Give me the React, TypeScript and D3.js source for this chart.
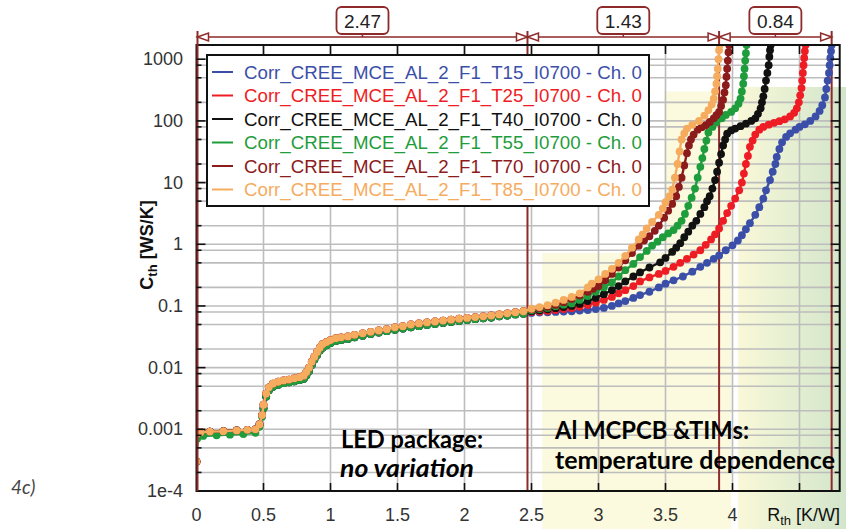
import React from "react";
import * as d3 from "d3";

// ---- data ----------------------------------------------------------------
// Structure function: cumulative thermal capacitance vs. cumulative thermal resistance
type Pt = [number, number];

// LED package section (nearly identical for every temperature)
const packageHead: Pt[] = [
  [0, 0.0003], [0.005, 0.00085], [0.03, 0.0009], [0.1, 0.00092], [0.2, 0.00093],
  [0.3, 0.00096], [0.38, 0.00098], [0.44, 0.001], [0.47, 0.0012], [0.49, 0.0017],
];
const packageHeadLow: Pt[] = [
  [0, 0.0003], [0.005, 0.0007], [0.05, 0.00078], [0.15, 0.0008], [0.25, 0.00082],
  [0.35, 0.00084], [0.44, 0.00088], [0.47, 0.0011], [0.49, 0.0016],
];
const packageBody: Pt[] = [
  [0.5, 0.0025], [0.52, 0.0038], [0.54, 0.0048], [0.57, 0.0055], [0.61, 0.0059],
  [0.65, 0.0062], [0.69, 0.0064], [0.73, 0.0067], [0.77, 0.007], [0.8, 0.0074],
  [0.82, 0.0085], [0.84, 0.01], [0.86, 0.0125], [0.88, 0.015], [0.9, 0.018],
  [0.92, 0.021], [0.94, 0.024], [0.97, 0.026], [1.0, 0.028], [1.04, 0.03],
  [1.08, 0.031], [1.13, 0.032], [1.18, 0.034], [1.24, 0.036], [1.3, 0.038],
  [1.36, 0.04], [1.42, 0.042], [1.48, 0.045], [1.54, 0.047], [1.6, 0.05],
  [1.66, 0.052], [1.72, 0.054], [1.78, 0.056], [1.84, 0.058], [1.9, 0.06],
  [1.96, 0.062], [2.02, 0.064], [2.08, 0.066], [2.14, 0.068], [2.2, 0.07],
  [2.26, 0.073], [2.32, 0.076], [2.38, 0.079], [2.44, 0.082],
];
const packageBodyLow: Pt[] = [
  [0.5, 0.0022], [0.52, 0.0034], [0.54, 0.0043], [0.57, 0.0049], [0.61, 0.0053],
  [0.65, 0.0056], [0.69, 0.0058], [0.73, 0.006], [0.77, 0.0063], [0.8, 0.0066],
  [0.82, 0.0075], [0.84, 0.0088], [0.86, 0.011], [0.88, 0.0135], [0.9, 0.016],
  [0.92, 0.019], [0.94, 0.021], [0.97, 0.023], [1.0, 0.025], [1.04, 0.027],
  [1.08, 0.028], [1.13, 0.029], [1.18, 0.031], [1.24, 0.033], [1.3, 0.035],
  [1.36, 0.037], [1.42, 0.039], [1.48, 0.041], [1.54, 0.043], [1.6, 0.045],
  [1.66, 0.047], [1.72, 0.049], [1.78, 0.051], [1.84, 0.053], [1.9, 0.055],
  [1.96, 0.057], [2.02, 0.059], [2.08, 0.061], [2.14, 0.063], [2.2, 0.065],
  [2.26, 0.068], [2.32, 0.07], [2.38, 0.073], [2.44, 0.075],
];

// MCPCB + TIM section, one per case temperature
const tailT15: Pt[] = [
  [2.5, 0.077], [2.56, 0.078], [2.62, 0.079], [2.68, 0.08], [2.74, 0.081], [2.8, 0.082],
  [2.86, 0.084], [2.92, 0.086], [2.98, 0.089], [3.04, 0.093], [3.1, 0.1], [3.15, 0.11],
  [3.2, 0.12], [3.26, 0.135], [3.31, 0.15], [3.38, 0.17], [3.45, 0.2], [3.5, 0.23],
  [3.56, 0.26], [3.63, 0.3], [3.7, 0.36], [3.76, 0.43], [3.81, 0.5], [3.86, 0.58],
  [3.9, 0.66], [3.95, 0.8], [4.0, 0.96], [4.04, 1.15], [4.07, 1.4], [4.1, 1.75],
  [4.13, 2.2], [4.17, 3.0], [4.2, 4.0], [4.23, 5.5], [4.25, 7.5], [4.28, 11],
  [4.3, 15], [4.32, 20], [4.33, 26], [4.35, 35], [4.37, 45], [4.4, 55], [4.43, 63],
  [4.47, 72], [4.5, 80], [4.54, 88], [4.58, 100], [4.62, 118], [4.65, 145],
  [4.67, 180], [4.69, 240], [4.7, 330], [4.71, 450], [4.72, 600], [4.725, 800],
  [4.73, 1050], [4.735, 1350], [4.74, 1700],
];
const tailT25: Pt[] = [
  [2.5, 0.08], [2.56, 0.081], [2.62, 0.083], [2.68, 0.086], [2.74, 0.089], [2.8, 0.092],
  [2.86, 0.097], [2.92, 0.104], [2.98, 0.113], [3.04, 0.125], [3.1, 0.14], [3.15, 0.16],
  [3.2, 0.18], [3.26, 0.21], [3.31, 0.25], [3.38, 0.29], [3.45, 0.33], [3.5, 0.37],
  [3.56, 0.43], [3.61, 0.5], [3.66, 0.58], [3.71, 0.68], [3.76, 0.8], [3.8, 0.98],
  [3.84, 1.2], [3.87, 1.45], [3.9, 1.8], [3.93, 2.4], [3.96, 3.2], [3.99, 4.2],
  [4.02, 5.5], [4.05, 7.5], [4.07, 10], [4.085, 14], [4.1, 20], [4.115, 27],
  [4.13, 38], [4.15, 48], [4.17, 60], [4.2, 72], [4.23, 80], [4.27, 87], [4.31, 93],
  [4.35, 99], [4.39, 106], [4.43, 118], [4.46, 135], [4.48, 160], [4.495, 200],
  [4.505, 260], [4.515, 340], [4.52, 450], [4.525, 600], [4.53, 800], [4.535, 1050],
  [4.54, 1350], [4.545, 1700],
];
const tailT40: Pt[] = [
  [2.5, 0.082], [2.56, 0.085], [2.62, 0.088], [2.68, 0.092], [2.74, 0.096], [2.8, 0.1],
  [2.86, 0.108], [2.92, 0.12], [2.98, 0.135], [3.04, 0.155], [3.1, 0.18], [3.15, 0.21],
  [3.2, 0.25], [3.26, 0.3], [3.31, 0.35], [3.38, 0.42], [3.46, 0.51], [3.5, 0.6],
  [3.55, 0.75], [3.58, 0.88], [3.61, 1.04], [3.64, 1.3], [3.67, 1.6], [3.7, 2.0],
  [3.73, 2.4], [3.76, 3.1], [3.79, 4], [3.81, 5], [3.83, 6], [3.85, 8], [3.87, 11],
  [3.885, 15], [3.9, 21], [3.915, 29], [3.93, 40], [3.945, 50], [3.96, 62], [3.99, 70],
  [4.02, 75], [4.06, 82], [4.1, 90], [4.14, 100], [4.17, 110], [4.19, 130], [4.21, 160],
  [4.22, 200], [4.23, 250], [4.24, 330], [4.25, 450], [4.26, 600], [4.27, 800],
  [4.275, 1100], [4.28, 1400], [4.285, 1700],
];
const tailT55: Pt[] = [
  [2.5, 0.085], [2.56, 0.089], [2.62, 0.093], [2.68, 0.099], [2.74, 0.105], [2.8, 0.11],
  [2.86, 0.125], [2.92, 0.145], [2.98, 0.17], [3.04, 0.2], [3.1, 0.24], [3.15, 0.3],
  [3.2, 0.38], [3.26, 0.48], [3.31, 0.62], [3.36, 0.78], [3.4, 0.95], [3.44, 1.1],
  [3.48, 1.3], [3.52, 1.5], [3.56, 1.7], [3.59, 2.0], [3.62, 2.4], [3.645, 3.1],
  [3.67, 4.2], [3.695, 5.7], [3.72, 8], [3.74, 12], [3.76, 18], [3.775, 25], [3.79, 35],
  [3.805, 48], [3.82, 65], [3.85, 80], [3.88, 95], [3.92, 110], [3.95, 125], [3.99, 140],
  [4.02, 160], [4.045, 190], [4.06, 230], [4.07, 300], [4.08, 400], [4.085, 530],
  [4.09, 700], [4.095, 950], [4.1, 1250], [4.105, 1700],
];
const tailT70: Pt[] = [
  [2.5, 0.088], [2.56, 0.092], [2.62, 0.097], [2.68, 0.104], [2.74, 0.115], [2.8, 0.13],
  [2.86, 0.148], [2.92, 0.17], [2.96, 0.19], [3.0, 0.21], [3.05, 0.26], [3.1, 0.33],
  [3.15, 0.42], [3.2, 0.55], [3.25, 0.72], [3.3, 0.95], [3.34, 1.15], [3.38, 1.35],
  [3.42, 1.65], [3.45, 2.0], [3.49, 2.7], [3.52, 3.5], [3.55, 4.5], [3.58, 6],
  [3.6, 8.5], [3.62, 12], [3.64, 19], [3.66, 30], [3.675, 40], [3.69, 50], [3.71, 60],
  [3.74, 72], [3.77, 79], [3.8, 85], [3.83, 96], [3.86, 110], [3.88, 124], [3.9, 140],
  [3.915, 175], [3.93, 220], [3.94, 290], [3.95, 380], [3.955, 520], [3.96, 700],
  [3.965, 950], [3.97, 1300], [3.975, 1700],
];
const tailT85: Pt[] = [
  [2.5, 0.09], [2.56, 0.096], [2.62, 0.103], [2.68, 0.113], [2.74, 0.125], [2.8, 0.14],
  [2.86, 0.16], [2.92, 0.2], [2.95, 0.23], [3.0, 0.27], [3.05, 0.33], [3.1, 0.4],
  [3.15, 0.5], [3.2, 0.65], [3.25, 0.88], [3.3, 1.2], [3.33, 1.45], [3.36, 1.8],
  [3.4, 2.3], [3.45, 3.0], [3.48, 3.8], [3.5, 4.8], [3.53, 6.0], [3.55, 7.7],
  [3.57, 12], [3.59, 20], [3.605, 32], [3.62, 50], [3.64, 63], [3.66, 75], [3.7, 86],
  [3.75, 100], [3.79, 122], [3.82, 150], [3.845, 185], [3.86, 230], [3.87, 300],
  [3.88, 400], [3.885, 530], [3.89, 700], [3.895, 1000], [3.9, 1400], [3.905, 1700],
];

const seriesNames = [
  "Corr_CREE_MCE_AL_2_F1_T15_I0700 - Ch. 0",
  "Corr_CREE_MCE_AL_2_F1_T25_I0700 - Ch. 0",
  "Corr_CREE_MCE_AL_2_F1_T40_I0700 - Ch. 0",
  "Corr_CREE_MCE_AL_2_F1_T55_I0700 - Ch. 0",
  "Corr_CREE_MCE_AL_2_F1_T70_I0700 - Ch. 0",
  "Corr_CREE_MCE_AL_2_F1_T85_I0700 - Ch. 0",
];
const seriesColors = ["#3c4fa8", "#ee1d25", "#111111", "#1f9d3c", "#8c1b1b", "#f6ac5f"];
const seriesHeads = [packageHead, packageHead, packageHead, packageHeadLow, packageHead, packageHead];
const seriesBodies = [packageBodyLow, packageBody, packageBodyLow, packageBodyLow, packageBody, packageBody];
const seriesTails = [tailT15, tailT25, tailT40, tailT55, tailT70, tailT85];

// Resistance split: package / MCPCB / TIM
const sectionBounds = [0, 2.47, 3.9, 4.74];
const sectionLabels = ["2.47", "1.43", "0.84"];

const xTickValues = [0.5, 1, 1.5, 2, 2.5, 3, 3.5, 4, 4.5];
const xTickLabels = ["0", "0.5", "1", "1.5", "2", "2.5", "3", "3.5", "4"];
const yDecades = [1e-4, 0.001, 0.01, 0.1, 1, 10, 100, 1000];
const yTickLabels = ["1e-4", "0.001", "0.01", "0.1", "1", "10", "100", "1000"];
const yMinorMultipliers = [2, 5, 8];

// ---- layout --------------------------------------------------------------
const W = 846;
const H = 529;
const x = d3.scaleLinear().domain([0, 4.8]).range([196.5, 839.7]);
const y = d3.scaleLog().domain([1e-4, 1700]).range([491, 45]);
const [pl, pr] = x.range();
const [pb, pt] = y.range();

const darkRed = "#8e2a2a";
const gridColor = "#bdbdbd";
const sans = "Liberation Sans, Arial, sans-serif";
const annot = "Lato, 'Open Sans', sans-serif";

const yMinor: number[] = [];
yDecades.forEach((d) => yMinorMultipliers.forEach((m) => {
  const v = d * m;
  if (v <= 1700) yMinor.push(v);
}));

const line = d3.line<Pt>().x((d) => x(d[0])).y((d) => y(d[1]));

export default function App() {
  const series = seriesNames.map((name, i) => ({
    name,
    color: seriesColors[i],
    points: [...seriesHeads[i], ...seriesBodies[i], ...seriesTails[i]],
  }));
  const dimY = 37;

  return (
    <svg width={W} height={H} style={{ display: "block", position: "absolute", left: 0, top: 0 }}>
      <defs>
        <linearGradient id="timBand" x1="0" x2="1" y1="0" y2="0">
          <stop offset="0" stopColor="#f9f8d8" />
          <stop offset="1" stopColor="#d2e5cb" />
        </linearGradient>
        <clipPath id="plotClip">
          <rect x={pl} y={pt} width={pr - pl} height={pb - pt} />
        </clipPath>
      </defs>
      <rect width={W} height={H} fill="#fff" />

      {/* shaded regions */}
      <path
        d={`M${x(2.58)},${H} V253 H${x(3.49)} V91.5 H731 V${H} Z`}
        fill="#fbfade"
      />
      <rect x={738} y={87} width={W - 738} height={H - 87} fill="url(#timBand)" />

      {/* grid */}
      <g stroke={gridColor} strokeWidth={1.6}>
        {xTickValues.map((v) => (
          <line key={"gx" + v} x1={x(v)} x2={x(v)} y1={pt} y2={pb} />
        ))}
        {[...yDecades.slice(1), ...yMinor].map((v) => (
          <line key={"gy" + v} x1={pl} x2={pr} y1={y(v)} y2={y(v)} />
        ))}
      </g>

      {/* section boundaries */}
      <g stroke={darkRed} strokeWidth={2}>
        {sectionBounds.slice(1).map((b) => (
          <line key={"sb" + b} x1={x(b)} x2={x(b)} y1={31} y2={pb} />
        ))}
      </g>

      {/* curves */}
      <g clipPath="url(#plotClip)">
        {series.map((s) => (
          <g key={s.name}>
            <path d={line(s.points) || ""} fill="none" stroke={s.color} strokeWidth={2.4} />
            {s.points.map((p, j) => (
              <circle key={j} cx={x(p[0])} cy={y(p[1])} r={3.9} fill={s.color} />
            ))}
          </g>
        ))}
      </g>

      {/* frame */}
      <rect x={pl} y={pt} width={pr - pl} height={pb - pt} fill="none" stroke="#111" strokeWidth={2} />
      <line x1={pl + 1} x2={pl + 1} y1={31} y2={pb} stroke={darkRed} strokeWidth={2} />

      {/* ticks */}
      <g stroke="#111" strokeWidth={1.6}>
        {xTickValues.map((v) => (
          <g key={"tx" + v}>
            <line x1={x(v)} x2={x(v)} y1={pb} y2={pb - 8} />
            <line x1={x(v)} x2={x(v)} y1={pt} y2={pt + 9} />
          </g>
        ))}
        {yDecades.slice(1).map((v) => (
          <g key={"ty" + v}>
            <line x1={pl} x2={pl + 9} y1={y(v)} y2={y(v)} />
            <line x1={pr} x2={pr - 9} y1={y(v)} y2={y(v)} />
          </g>
        ))}
        {yMinor.map((v) => (
          <g key={"tm" + v}>
            <line x1={pl} x2={pl + 5} y1={y(v)} y2={y(v)} />
            <line x1={pr} x2={pr - 5} y1={y(v)} y2={y(v)} />
          </g>
        ))}
      </g>

      {/* tick labels */}
      <g fontFamily={sans} fontSize={18} fill="#333">
        {xTickLabels.map((t) => (
          <text key={"lx" + t} x={x(+t)} y={521} textAnchor="middle">{t}</text>
        ))}
        {yDecades.map((v, i) => (
          <text key={"ly" + v} x={183} y={y(v) + 6} textAnchor="end">{yTickLabels[i]}</text>
        ))}
      </g>

      {/* axis titles */}
      <text
        transform={`translate(153,245) rotate(-90)`}
        textAnchor="middle"
        fontFamily={sans}
        fontSize={18}
        fontWeight="bold"
        fill="#111"
      >
        C<tspan fontSize={13} dy={4}>th</tspan><tspan dy={-4}> [WS/K]</tspan>
      </text>
      <text x={840} y={521} textAnchor="end" fontFamily={sans} fontSize={18} fill="#111">
        R<tspan fontSize={13} dy={4}>th</tspan><tspan dy={-4}> [K/W]</tspan>
      </text>

      {/* resistance dimension lines */}
      <g stroke={darkRed} strokeWidth={1.5} fill="#fff">
        <line x1={x(sectionBounds[0])} x2={x(sectionBounds[3])} y1={dimY} y2={dimY} />
        {sectionLabels.map((lab, i) => {
          const a = x(sectionBounds[i]) + (i === 0 ? 1 : 0);
          const b = x(sectionBounds[i + 1]);
          const cx = (a + b) / 2;
          return (
            <g key={"dim" + lab}>
              <path d={`M${a},${dimY} L${a + 11},${dimY - 4} L${a + 11},${dimY + 4} Z`} />
              <path d={`M${b},${dimY} L${b - 11},${dimY - 4} L${b - 11},${dimY + 4} Z`} />
              <line x1={cx} x2={cx} y1={34} y2={dimY} />
              <rect x={cx - 26} y={7} width={52} height={27} rx={5} strokeWidth={1.8} />
              <text
                x={cx}
                y={27.5}
                textAnchor="middle"
                stroke="none"
                fill="#222"
                fontFamily={sans}
                fontSize={19}
              >
                {lab}
              </text>
            </g>
          );
        })}
      </g>

      {/* legend */}
      <rect x={207} y={55} width={442} height={151} fill="#fff" stroke="#111" strokeWidth={2} />
      {series.map((s, i) => {
        const ly = 72 + i * 23.5;
        return (
          <g key={"lg" + s.name}>
            <line x1={212} x2={233} y1={ly} y2={ly} stroke={s.color} strokeWidth={2} />
            <text x={244} y={ly + 6.5} fontFamily={sans} fontSize={18.7} fill={s.color}>
              {s.name}
            </text>
          </g>
        );
      })}

      {/* region annotations */}
      <g fontFamily={annot} fontWeight="bold" fill="#000" fontSize={24}>
        <text x={341} y={448} textLength={142} lengthAdjust="spacingAndGlyphs">LED package:</text>
        <text x={340} y={477} fontStyle="italic" textLength={134} lengthAdjust="spacingAndGlyphs">no variation</text>
        <text x={555} y={439} textLength={194} lengthAdjust="spacingAndGlyphs">Al MCPCB &amp;TIMs:</text>
        <text x={555} y={469} textLength={280} lengthAdjust="spacingAndGlyphs">temperature dependence</text>
      </g>
      <text x={11} y={494} fontFamily={annot} fontStyle="italic" fontSize={19} fill="#444">4c)</text>
    </svg>
  );
}
